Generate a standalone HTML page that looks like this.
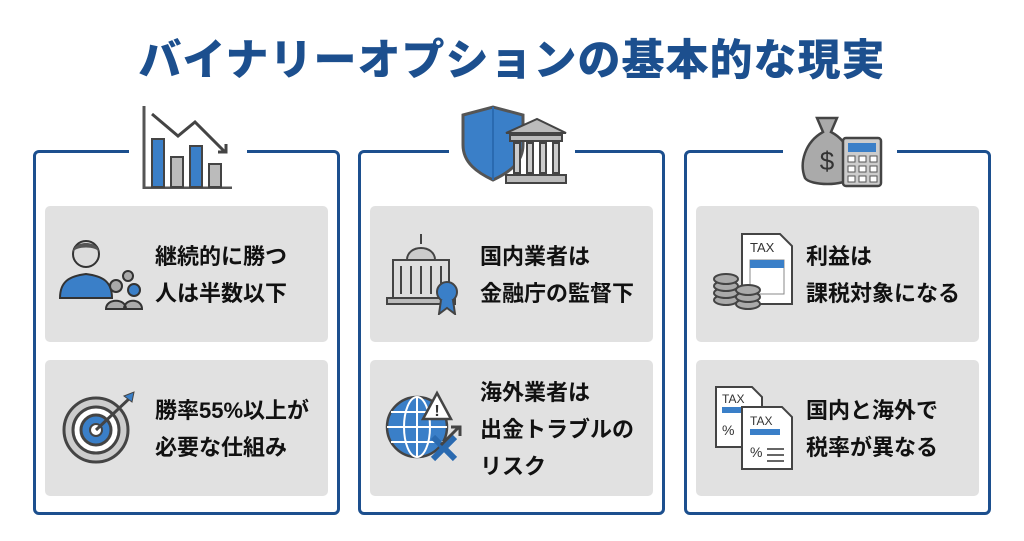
<!DOCTYPE html>
<html><head><meta charset="utf-8"><style>
body{margin:0;width:1024px;height:541px;background:#fff;position:relative;overflow:hidden;font-family:"Liberation Sans","Noto Sans CJK JP",sans-serif}
.title{position:absolute;left:0;width:1024px;top:26px;text-align:center;font-size:43px;font-weight:900;color:#1c4f8e;letter-spacing:1px}
.panel{position:absolute;top:150px;width:307px;height:365px;border:3px solid #1c4f8e;border-radius:6px;box-sizing:border-box}
.gap{position:absolute;top:-5px;height:8px;background:#fff}
.card{position:absolute;left:9px;width:283px;height:136px;background:#e1e1e1;border-radius:5px}
.txt{position:absolute;left:110px;font-size:22px;font-weight:700;color:#111;line-height:37px}
svg{position:absolute}
</style></head><body>
<div class="title">バイナリーオプションの基本的な現実</div>

<div class="panel" style="left:33px">
 <div class="gap" style="left:93px;width:118px"></div>
 <div class="card" style="top:53px"><div class="txt" style="top:32px">継続的に勝つ<br>人は半数以下</div></div>
 <div class="card" style="top:207px"><div class="txt" style="top:32px">勝率55%以上が<br>必要な仕組み</div></div>
</div>
<div class="panel" style="left:358px">
 <div class="gap" style="left:88px;width:126px"></div>
 <div class="card" style="top:53px"><div class="txt" style="top:32px">国内業者は<br>金融庁の監督下</div></div>
 <div class="card" style="top:207px"><div class="txt" style="top:14px">海外業者は<br>出金トラブルの<br>リスク</div></div>
</div>
<div class="panel" style="left:684px">
 <div class="gap" style="left:96px;width:114px"></div>
 <div class="card" style="top:53px"><div class="txt" style="top:32px">利益は<br>課税対象になる</div></div>
 <div class="card" style="top:207px"><div class="txt" style="top:32px">国内と海外で<br>税率が異なる</div></div>
</div>

<!-- top icons -->
<svg style="left:140px;top:104px" width="95" height="85" viewBox="0 0 95 85">
 <path d="M4 2V84H92" stroke="#555" stroke-width="3" fill="none"/>
 <rect x="12" y="35" width="12" height="48" fill="#3a7fc8" stroke="#444" stroke-width="2"/>
 <rect x="31" y="53" width="12" height="30" fill="#bbb" stroke="#444" stroke-width="2"/>
 <rect x="50" y="42" width="12" height="41" fill="#3a7fc8" stroke="#444" stroke-width="2"/>
 <rect x="69" y="60" width="12" height="23" fill="#bbb" stroke="#444" stroke-width="2"/>
 <path d="M12 10L38 32L55 18L85 48M78 48H86V40" stroke="#444" stroke-width="3" fill="none"/>
</svg>
<svg style="left:458px;top:105px" width="110" height="82" viewBox="0 0 110 82">
 <path d="M5 10L35 2L65 10V40C65 58 50 68 35 75C20 68 5 58 5 40Z" fill="#3a7fc8" stroke="#555" stroke-width="3"/>
 <path d="M35 2V75" stroke="#2a6ab0" stroke-width="2"/>
 <path d="M48 28L79 14L108 28Z" fill="#bbb" stroke="#444" stroke-width="2"/>
 <rect x="52" y="30" width="52" height="6" fill="#bbb" stroke="#444" stroke-width="2"/>
 <rect x="56" y="38" width="6" height="30" fill="#ccc" stroke="#444" stroke-width="2"/>
 <rect x="69" y="38" width="6" height="30" fill="#ccc" stroke="#444" stroke-width="2"/>
 <rect x="82" y="38" width="6" height="30" fill="#ccc" stroke="#444" stroke-width="2"/>
 <rect x="95" y="38" width="6" height="30" fill="#ccc" stroke="#444" stroke-width="2"/>
 <rect x="48" y="70" width="60" height="8" fill="#bbb" stroke="#444" stroke-width="2"/>
</svg>
<svg style="left:795px;top:108px" width="90" height="82" viewBox="0 0 90 82">
 <path d="M22 10H42L36 24C55 34 60 55 55 70C50 78 15 78 10 70C4 55 10 34 28 24Z" fill="#aaa" stroke="#444" stroke-width="2.5"/>
 <text x="32" y="62" font-size="26" fill="#333" text-anchor="middle" font-family="Liberation Sans">$</text>
 <rect x="48" y="30" width="38" height="48" rx="3" fill="#ccc" stroke="#444" stroke-width="2.5"/>
 <rect x="53" y="35" width="28" height="9" fill="#3a7fc8"/>
 <g fill="#fff" stroke="#555"><rect x="53" y="48" width="7" height="6"/><rect x="64" y="48" width="7" height="6"/><rect x="75" y="48" width="7" height="6"/><rect x="53" y="58" width="7" height="6"/><rect x="64" y="58" width="7" height="6"/><rect x="75" y="58" width="7" height="6"/><rect x="53" y="68" width="7" height="6"/><rect x="64" y="68" width="7" height="6"/><rect x="75" y="68" width="7" height="6"/></g>
</svg>

<!-- card icons -->
<svg style="left:58px;top:236px" width="85" height="75" viewBox="0 0 85 75">
 <path d="M2 62C2 45 12 40 28 38C44 40 54 45 54 62Z" fill="#3a7fc8" stroke="#333" stroke-width="2"/>
 <circle cx="28" cy="18" r="13" fill="#ddd" stroke="#333" stroke-width="2"/>
 <path d="M15 16C15 4 41 4 41 16C38 10 18 10 15 16Z" fill="#555"/>
 <circle cx="58" cy="50" r="6" fill="#aaa" stroke="#333" stroke-width="2"/><circle cx="70" cy="40" r="5" fill="#aaa" stroke="#333" stroke-width="2"/><circle cx="76" cy="54" r="6" fill="#3a7fc8" stroke="#333" stroke-width="2"/>
 <path d="M48 73C48 62 68 62 68 73ZM66 73C66 62 84 62 84 73Z" fill="#aaa" stroke="#333" stroke-width="2"/>
</svg>
<svg style="left:60px;top:390px" width="80" height="75" viewBox="0 0 80 75">
 <circle cx="36" cy="40" r="32" fill="#ccc" stroke="#444" stroke-width="3"/>
 <circle cx="36" cy="40" r="23" fill="#fff" stroke="#444" stroke-width="3"/>
 <circle cx="36" cy="40" r="15" fill="#3a7fc8" stroke="#444" stroke-width="3"/>
 <circle cx="36" cy="40" r="6" fill="#fff" stroke="#444" stroke-width="2"/>
 <path d="M36 40L72 6" stroke="#444" stroke-width="3"/><path d="M64 6L74 2L72 12Z" fill="#3a7fc8" stroke="#444"/>
</svg>
<svg style="left:385px;top:230px" width="85" height="85" viewBox="0 0 85 85">
 <rect x="8" y="30" width="56" height="38" fill="#ddd" stroke="#444" stroke-width="2"/>
 <path d="M22 30C22 14 50 14 50 30Z" fill="#ccc" stroke="#444" stroke-width="2"/>
 <path d="M36 14V4" stroke="#444" stroke-width="2"/>
 <g stroke="#444" stroke-width="2"><path d="M16 36V64M26 36V64M36 36V64M46 36V64M56 36V64"/></g>
 <rect x="2" y="68" width="68" height="6" fill="#bbb" stroke="#444" stroke-width="2"/>
 <circle cx="62" cy="62" r="10" fill="#3a7fc8" stroke="#444" stroke-width="2"/>
 <path d="M56 70L54 84L62 78L70 84L68 70" fill="#3a7fc8" stroke="#444" stroke-width="2"/>
</svg>
<svg style="left:385px;top:385px" width="85" height="85" viewBox="0 0 85 85">
 <circle cx="32" cy="42" r="30" fill="#3a7fc8" stroke="#444" stroke-width="2.5"/>
 <g stroke="#fff" stroke-width="2" fill="none"><ellipse cx="32" cy="42" rx="13" ry="30"/><path d="M2 42H62M6 27H58M6 57H58M32 12V72"/></g>
 <path d="M52 8L66 34H38Z" fill="#fff" stroke="#444" stroke-width="2.5"/><text x="52" y="31" font-size="16" font-weight="700" text-anchor="middle" fill="#333">!</text>
 <path d="M48 52L70 74M70 52L48 74" stroke="#2a6ab0" stroke-width="6"/>
 <path d="M56 60L74 42M66 42H75V51" stroke="#444" stroke-width="3" fill="none"/>
</svg>
<svg style="left:712px;top:232px" width="85" height="80" viewBox="0 0 85 80">
 <path d="M30 2H68L80 14V72H30Z" fill="#fff" stroke="#444" stroke-width="2"/>
 <text x="38" y="20" font-size="13" fill="#333" font-family="Liberation Sans">TAX</text>
 <rect x="38" y="28" width="34" height="34" fill="#fff" stroke="#888"/><rect x="38" y="28" width="34" height="8" fill="#3a7fc8"/>
 <g fill="#aaa" stroke="#444" stroke-width="2"><ellipse cx="14" cy="68" rx="12" ry="5"/><ellipse cx="14" cy="61" rx="12" ry="5"/><ellipse cx="14" cy="54" rx="12" ry="5"/><ellipse cx="14" cy="47" rx="12" ry="5"/><ellipse cx="36" cy="72" rx="12" ry="5"/><ellipse cx="36" cy="65" rx="12" ry="5"/><ellipse cx="36" cy="58" rx="12" ry="5"/></g>
</svg>
<svg style="left:712px;top:385px" width="85" height="85" viewBox="0 0 85 85">
 <path d="M4 2H40L50 12V62H4Z" fill="#fff" stroke="#444" stroke-width="2"/>
 <text x="10" y="18" font-size="12" fill="#333" font-family="Liberation Sans">TAX</text>
 <rect x="10" y="22" width="30" height="6" fill="#3a7fc8"/>
 <text x="10" y="50" font-size="14" fill="#333">%</text>
 <path d="M30 22H70L80 32V84H30Z" fill="#fff" stroke="#444" stroke-width="2"/>
 <text x="38" y="40" font-size="12" fill="#333" font-family="Liberation Sans">TAX</text>
 <rect x="38" y="44" width="30" height="6" fill="#3a7fc8"/>
 <text x="38" y="72" font-size="14" fill="#333">%</text>
 <path d="M55 64H72M55 70H72M55 76H72" stroke="#666" stroke-width="2"/>
</svg>
</body></html>
